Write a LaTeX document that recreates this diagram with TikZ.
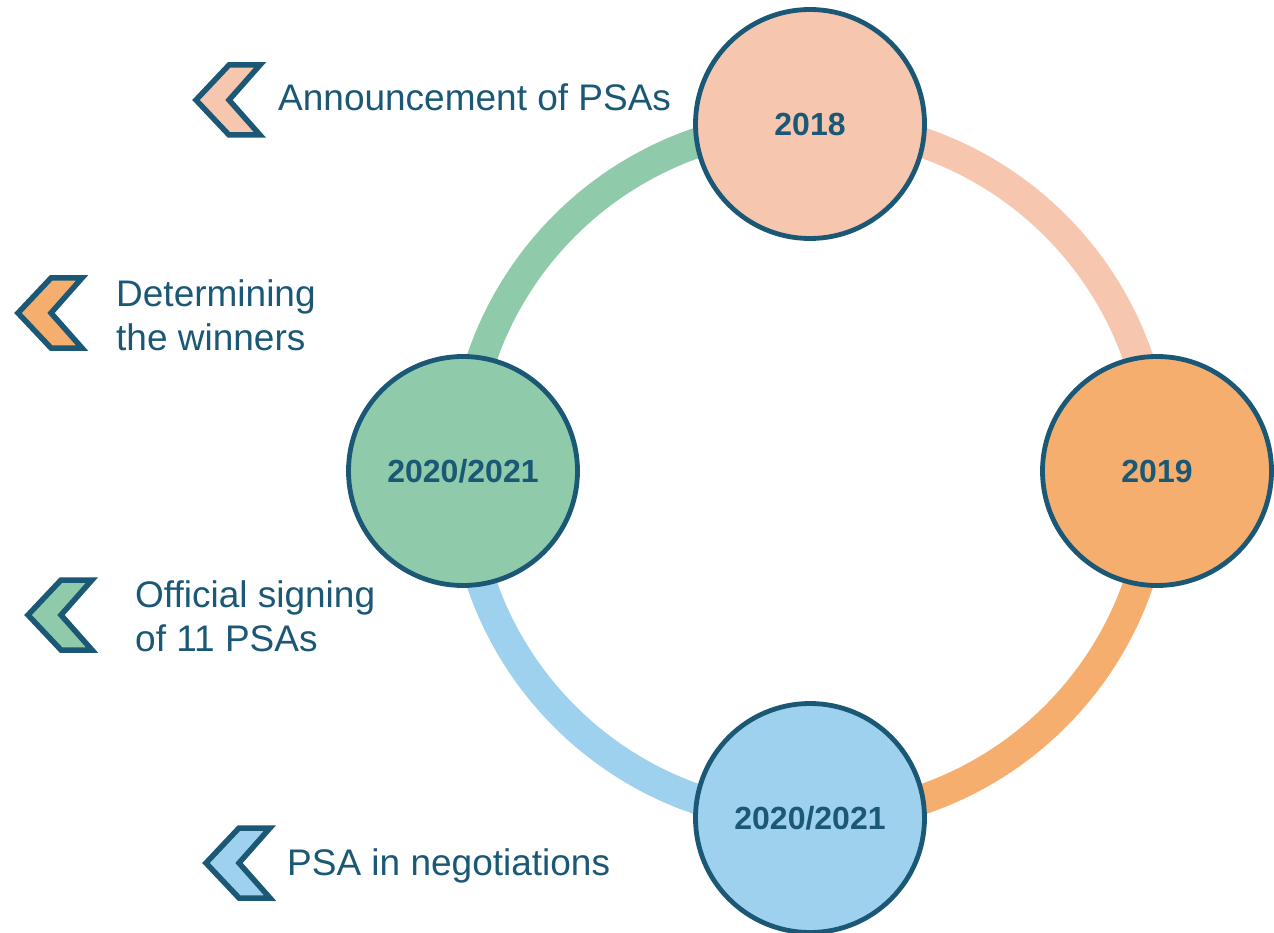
\documentclass[tikz,border=0pt]{standalone}
\usepackage{fontspec}
\setmainfont{Liberation Sans}
\definecolor{dark}{HTML}{1A5876}
\definecolor{peach}{HTML}{F7C6AE}
\definecolor{orng}{HTML}{F6AE6E}
\definecolor{grn}{HTML}{8FCAAB}
\definecolor{blu}{HTML}{9DD1EE}
\tikzset{
  yearnode/.style={circle, draw=dark, line width=4.8pt, minimum size=229pt, inner sep=0pt,
    text=dark, font=\fontsize{32}{38}\selectfont\bfseries},
  ringarc/.style={line width=30pt},
  chev/.style={draw=dark, line width=5.5pt, line join=miter},
  lbl/.style={anchor=base west, inner sep=0pt, text=dark, font=\fontsize{37}{44}\selectfont}
}
\begin{document}
\begin{tikzpicture}[x=1pt,y=-1pt]
\useasboundingbox (0,0) rectangle (1274,933);
\coordinate (c) at (810,471);
% ring
\draw[ringarc, peach] (810,124) arc[start angle=-90, end angle=0, radius=347];
\draw[ringarc, orng] (1157,471) arc[start angle=0, end angle=90, radius=347];
\draw[ringarc, blu] (810,818) arc[start angle=90, end angle=180, radius=347];
\draw[ringarc, grn] (463,471) arc[start angle=180, end angle=270, radius=347];
% year circles
\node[yearnode, fill=peach] (y1) at (810,124) {2018};
\node[yearnode, fill=orng] (y2) at (1157,471) {2019};
\node[yearnode, fill=blu] (y3) at (810,818) {2020/2021};
\node[yearnode, fill=grn] (y4) at (463,471) {2020/2021};
% chevrons
\foreach \px/\py/\col in {196/100/peach, 18/313/orng, 28/615/grn, 206/863/blu}{
  \draw[chev, fill=\col, shift={(\px,\py)}] (0,0) -- (33,-35) -- (64,-35) -- (33,0) -- (64,35) -- (33,35) -- cycle;
}
% labels
\node[lbl] (l1) at (278,111) {Announcement of PSAs};
\node[lbl] (l2a) at (116,306) {Determining};
\node[lbl] (l2b) at (116,350) {the winners};
\node[lbl] (l3a) at (135,607) {Official signing};
\node[lbl] (l3b) at (135,651) {of 11 PSAs};
\node[lbl] (l4) at (287,875) {PSA in negotiations};
\end{tikzpicture}
\end{document}
